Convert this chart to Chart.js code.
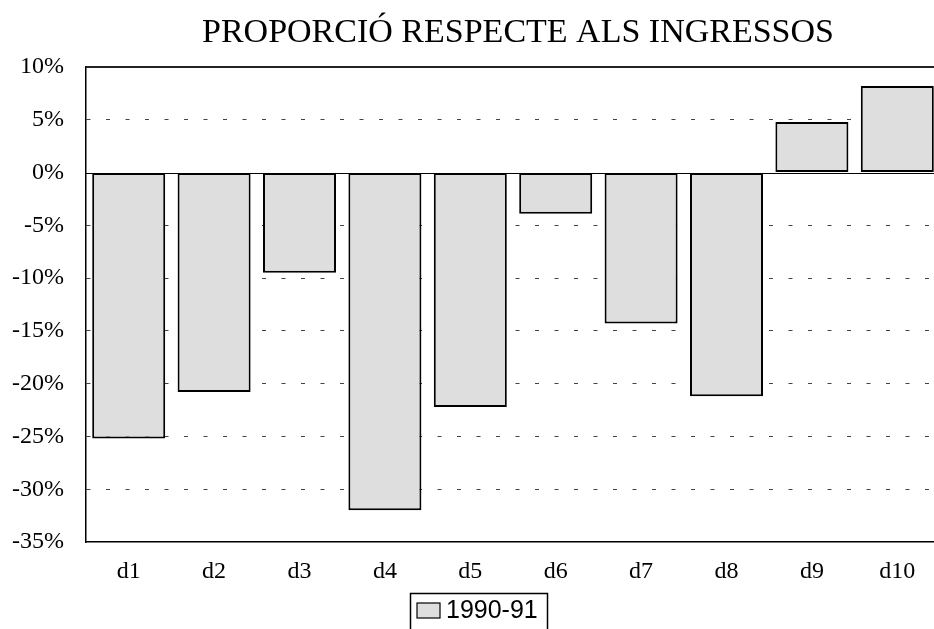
<!DOCTYPE html>
<html>
<head>
<meta charset="utf-8">
<script src="https://cdn.jsdelivr.net/npm/chart.js@4/dist/chart.umd.min.js"></script>
<style>
  html, body { margin: 0; padding: 0; overflow: hidden; background: #fff; }
  #wrap { width: 950px; height: 629px; position: relative; }
</style>
</head>
<body>
<div id="wrap"><canvas id="c" width="950" height="629"></canvas></div>
<script>
const chartTitle = "PROPORCIÓ RESPECTE ALS INGRESSOS";
const categories = ["d1", "d2", "d3", "d4", "d5", "d6", "d7", "d8", "d9", "d10"];
const seriesLabel = "1990-91";
const seriesValues = [-25.2, -20.8, -9.5, -32.0, -22.2, -3.9, -14.3, -21.2, 4.8, 8.2];
const yMin = -35, yMax = 10, yStep = 5;

const serif = "'Liberation Serif', 'Times New Roman', serif";
const sans = "'Liberation Sans', Arial, sans-serif";

const decor = {
  id: 'decor',
  beforeDatasetsDraw(chart) {
    const {ctx, chartArea, scales} = chart;
    const y0 = scales.y.getPixelForValue(0);
    const yTop = scales.y.getPixelForValue(yMax);
    ctx.save();
    ctx.strokeStyle = '#000';
    ctx.lineWidth = 1.2;
    ctx.beginPath();
    ctx.moveTo(chartArea.left, Math.round(y0) + 0.5);
    ctx.lineTo(chartArea.right, Math.round(y0) + 0.5);
    ctx.stroke();
    ctx.lineWidth = 2;
    ctx.strokeStyle = '#222';
    ctx.beginPath();
    ctx.moveTo(chartArea.left, Math.round(yTop));
    ctx.lineTo(chartArea.right, Math.round(yTop));
    ctx.stroke();
    ctx.restore();
  },
  afterDraw(chart) {
    const {ctx} = chart;
    ctx.save();
    // title
    ctx.fillStyle = '#000';
    ctx.font = "34px " + serif;
    ctx.textAlign = 'center';
    ctx.textBaseline = 'middle';
    ctx.fillText(chartTitle, 518, 33);
    // legend box
    ctx.strokeStyle = '#000';
    ctx.lineWidth = 1.5;
    ctx.strokeRect(410.5, 593.5, 137, 60);
    ctx.fillStyle = '#dedede';
    ctx.fillRect(417, 603, 23, 15);
    ctx.lineWidth = 1.2;
    ctx.strokeRect(417, 603, 23, 15);
    ctx.fillStyle = '#000';
    ctx.font = "25px " + sans;
    ctx.textAlign = 'left';
    ctx.textBaseline = 'middle';
    ctx.fillText(seriesLabel, 446, 611);
    ctx.restore();
  }
};

new Chart(document.getElementById('c'), {
  type: 'bar',
  data: {
    labels: categories,
    datasets: [{
      label: seriesLabel,
      data: seriesValues,
      backgroundColor: '#dedede',
      borderColor: '#000',
      borderWidth: 2,
      borderSkipped: false,
      barPercentage: 0.855,
      categoryPercentage: 1.0
    }]
  },
  options: {
    responsive: false,
    animation: false,
    devicePixelRatio: 1,
    layout: { padding: { top: 67, right: 10, left: 0, bottom: 0 } },
    plugins: {
      legend: { display: false },
      title: { display: false },
      tooltip: { enabled: false }
    },
    scales: {
      x: {
        grid: { display: false, drawTicks: false },
        border: { display: true, color: '#000', width: 1.5 },
        ticks: { color: '#000', font: { family: serif, size: 24 }, padding: 15, maxRotation: 0 },
        afterFit(scale) { scale.height = 629 - 67 - 475; }
      },
      y: {
        min: yMin, max: yMax,
        grid: {
          drawTicks: false,
          color: (c) => (c.tick && (c.tick.value === 0 || c.tick.value === yMax || c.tick.value === yMin)) ? 'rgba(0,0,0,0)' : '#444',
          lineWidth: 1
        },
        border: { display: true, color: '#000', width: 1.5, dash: [4, 15.5] },
        ticks: {
          stepSize: yStep,
          color: '#000',
          font: { family: serif, size: 24 },
          padding: 22,
          callback: (v) => v + '%'
        },
        afterFit(scale) { scale.width = 86; }
      }
    }
  },
  plugins: [decor]
});
</script>
</body>
</html>
